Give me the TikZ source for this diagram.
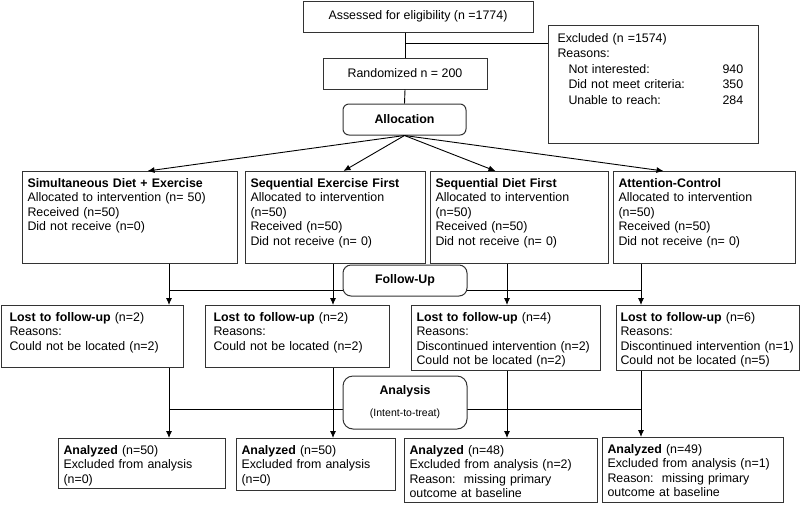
\documentclass[tikz,border=0pt]{standalone}
\usepackage{fontspec}
\setmainfont{Liberation Sans}
\usetikzlibrary{arrows.meta}

\begin{document}
\begin{tikzpicture}
    [x=1pt, y=-1pt,
     box/.style={rectangle, draw=black!80, line width=1pt, anchor=north west, align=left,
       inner xsep=5pt, inner ysep=7pt, font=\fontsize{12.4}{14.5}\selectfont},
     plain/.style={rectangle, draw=black!80, line width=1pt, minimum height=31pt,
       font=\fontsize{12.4}{14.5}\selectfont},
     stage/.style={rectangle, rounded corners=#1, draw=black!80, line width=1pt, fill=white,
       align=center, font=\fontsize{12.4}{14.5}\selectfont\bfseries},
     ln/.style={draw=black, line width=0.9pt},
     arr/.style={-{Latex[length=7pt,width=6pt]}, draw=black, line width=0.9pt}]

    \useasboundingbox (0,0) rectangle (800,504);

    % screening
    \node [plain, minimum width=230pt] (assess) at (418,16.5) {Assessed for eligibility (n =1774)};
    \node [plain, minimum width=164pt] (rand) at (405,73.5) {Randomized n = 200};
    \node [box, inner xsep=9pt, inner ysep=8pt, text width=192pt, text depth=93pt,
      font=\fontsize{12.4}{15.5}\selectfont] (excl) at (548,25) {
    Excluded (n =1574)\\
    Reasons:\\
    \hspace*{11pt}\makebox[154pt][l]{Not interested:}940\\
    \hspace*{11pt}\makebox[154pt][l]{Did not meet criteria:}350\\
    \hspace*{11pt}\makebox[154pt][l]{Unable to reach:}284
    };
    \node [stage=6pt, minimum width=123pt, minimum height=31pt] (alloc) at (404.5,119.5) {Allocation};

    \coordinate (br) at (405,43);
    \draw [ln] (assess.south -| rand.north) -- (rand.north);
    \draw [ln] (br) -- (br -| excl.west);
    \draw [ln] (rand.south) -- (alloc.north);

    % allocation
    \node [box, text width=205pt, text depth=69.5pt] (g1) at (22,171) {
    \textbf{Simultaneous Diet + Exercise}\\
    Allocated to intervention (n= 50)\\
    Received (n=50)\\
    Did not receive (n=0)
    };
    \node [box, text width=170pt, text depth=69.5pt] (g2) at (245,171) {
    \textbf{Sequential Exercise First}\\
    Allocated to intervention\\
    (n=50)\\
    Received (n=50)\\
    Did not receive (n= 0)
    };
    \node [box, text width=168pt, text depth=69.5pt] (g3) at (430,171) {
    \textbf{Sequential Diet First}\\
    Allocated to intervention\\
    (n=50)\\
    Received (n=50)\\
    Did not receive (n= 0)
    };
    \node [box, text width=172pt, text depth=69.5pt] (g4) at (613,171) {
    \textbf{Attention-Control}\\
    Allocated to intervention\\
    (n=50)\\
    Received (n=50)\\
    Did not receive (n= 0)
    };

    \foreach \i/\s in {1/17.5, 2/8, 3/-24, 4/-41}
      \draw [arr] (alloc.south) -- ([xshift=\s pt] g\i.north);

    % follow-up
    \node [box, inner xsep=8pt, text width=166pt, text depth=39.5pt] (l1) at (1,305) {
    \textbf{Lost to follow-up} (n=2)\\
    Reasons:\\
    Could not be located (n=2)
    };
    \node [box, inner xsep=8pt, text width=168pt, text depth=39.5pt] (l2) at (205,305) {
    \textbf{Lost to follow-up} (n=2)\\
    Reasons:\\
    Could not be located (n=2)
    };
    \node [box, text width=179pt, text depth=42.5pt] (l3) at (411,305) {
    \textbf{Lost to follow-up} (n=4)\\
    Reasons:\\
    Discontinued intervention (n=2)\\
    Could not be located (n=2)
    };
    \node [box, inner xsep=4pt, text width=175pt, text depth=42.5pt] (l4) at (616,305) {
    \textbf{Lost to follow-up} (n=6)\\
    Reasons:\\
    Discontinued intervention (n=1)\\
    Could not be located (n=5)
    };

    % analysis
    \node [box, text width=157pt, text depth=27.5pt] (a1) at (58,438) {
    \textbf{Analyzed} (n=50)\\
    Excluded from analysis\\
    (n=0)
    };
    \node [box, text width=149pt, text depth=29.5pt] (a2) at (236,438) {
    \textbf{Analyzed} (n=50)\\
    Excluded from analysis\\
    (n=0)
    };
    \node [box, text width=183pt, text depth=41.5pt] (a3) at (404,438) {
    \textbf{Analyzed} (n=48)\\
    Excluded from analysis (n=2)\\
    Reason:\ \ missing primary\\
    outcome at baseline
    };
    \node [box, text width=171pt, text depth=42.5pt] (a4) at (602,437) {
    \textbf{Analyzed} (n=49)\\
    Excluded from analysis (n=1)\\
    Reason:\ \ missing primary\\
    outcome at baseline
    };

    \coordinate (c1) at (169,0);
    \coordinate (c2) at (333,0);
    \coordinate (c3) at (507,0);
    \coordinate (c4) at (641,0);
    \coordinate (hf) at (0,290);
    \coordinate (ha) at (0,409);

    \draw [ln] (c1 |- hf) -- (c4 |- hf);
    \draw [ln] (c1 |- ha) -- (c4 |- ha);
    \foreach \i in {1,...,4} {
      \draw [arr] (g\i.south -| c\i) -- (l\i.north -| c\i);
      \draw [arr] (l\i.south -| c\i) -- (a\i.north -| c\i);
    }

    \node [stage=8pt, minimum width=124pt, minimum height=31pt] (fu) at (405,280.5) {Follow-Up};
    \node [stage=10pt, minimum width=124pt, minimum height=53pt] (an) at (405,402.5) {
    Analysis\\[7.5pt]
    {\fontsize{10.5}{12}\selectfont\mdseries (Intent-to-treat)}
    };
\end{tikzpicture}
\end{document}
